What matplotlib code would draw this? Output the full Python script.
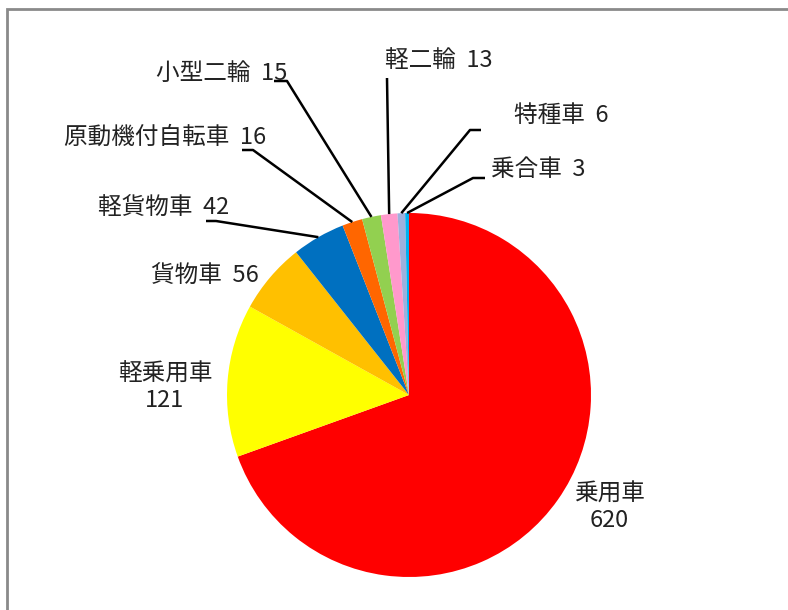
import numpy as np
import matplotlib.pyplot as plt
from matplotlib.patches import Rectangle

plt.rcParams['font.family'] = ['Noto Sans CJK JP', 'DejaVu Sans']

# data (clockwise from 12 o'clock)
labels = ['乗用車', '軽乗用車', '貨物車', '軽貨物車', '原動機付自転車',
          '小型二輪', '軽二輪', '特種車', '乗合車']
values = [620, 121, 56, 42, 16, 15, 13, 6, 3]
colors = ['#FF0000', '#FFFF00', '#FFC000', '#0070C0', '#FF6600',
          '#92D050', '#FF99CC', '#9DB0DE', '#00B0F0']

# layout in pixel coords (y measured from top)
W, H = 788, 610
cx, cy, r = 409, 395, 182

# label text centre, two-line?, leader stub (x_start, x_end, y) or None
label_pos = [
    (609, 507, True, None),
    (165, 387, True, None),
    (205, 275, False, None),
    (164, 207, False, (206, 216, 221)),
    (165, 137, False, (242, 253, 150)),
    (222, 73, False, (274, 287, 81)),
    (439, 60, False, (387, 387, 78)),
    (561, 115, False, (481, 470, 130)),
    (538, 170, False, (485, 473, 178)),
]

fig = plt.figure(figsize=(W / 100, H / 100), dpi=100)
ax = fig.add_axes([0, 0, 1, 1])

ax.pie(values, colors=colors, startangle=90, counterclock=False,
       center=(cx, H - cy), radius=r, frame=True,
       wedgeprops=dict(linewidth=0))
ax.set_xlim(0, W)
ax.set_ylim(0, H)
ax.set_aspect('equal')
ax.axis('off')

total = sum(values)
cum = np.cumsum([0] + values)
for i, (lab, val) in enumerate(zip(labels, values)):
    tx, ty, two, stub = label_pos[i]
    if two:
        txt = f'{lab}\n{val}'
    else:
        txt = f'{lab}  {val}'
    ax.text(tx, H - ty, txt, ha='center', va='center', fontsize=17,
            color='#222222', linespacing=1.2)
    if stub is not None:
        mid = (cum[i] + val / 2) / total * 2 * np.pi
        wx = cx + r * np.sin(mid)
        wy = cy - r * np.cos(mid)
        x0, x1, sy = stub
        ax.plot([x0, x1, wx], [H - sy, H - sy, H - wy], color='black',
                lw=1.8, solid_capstyle='butt')

# outer frame, partly cropped on right and bottom
fig.patches.append(Rectangle((6.5 / W, -0.1), 1.2, 1.1 - 8.5 / H,
                             transform=fig.transFigure, fill=False,
                             edgecolor='#8a8a8a', lw=2))

fig.savefig('out.png', dpi=100)
